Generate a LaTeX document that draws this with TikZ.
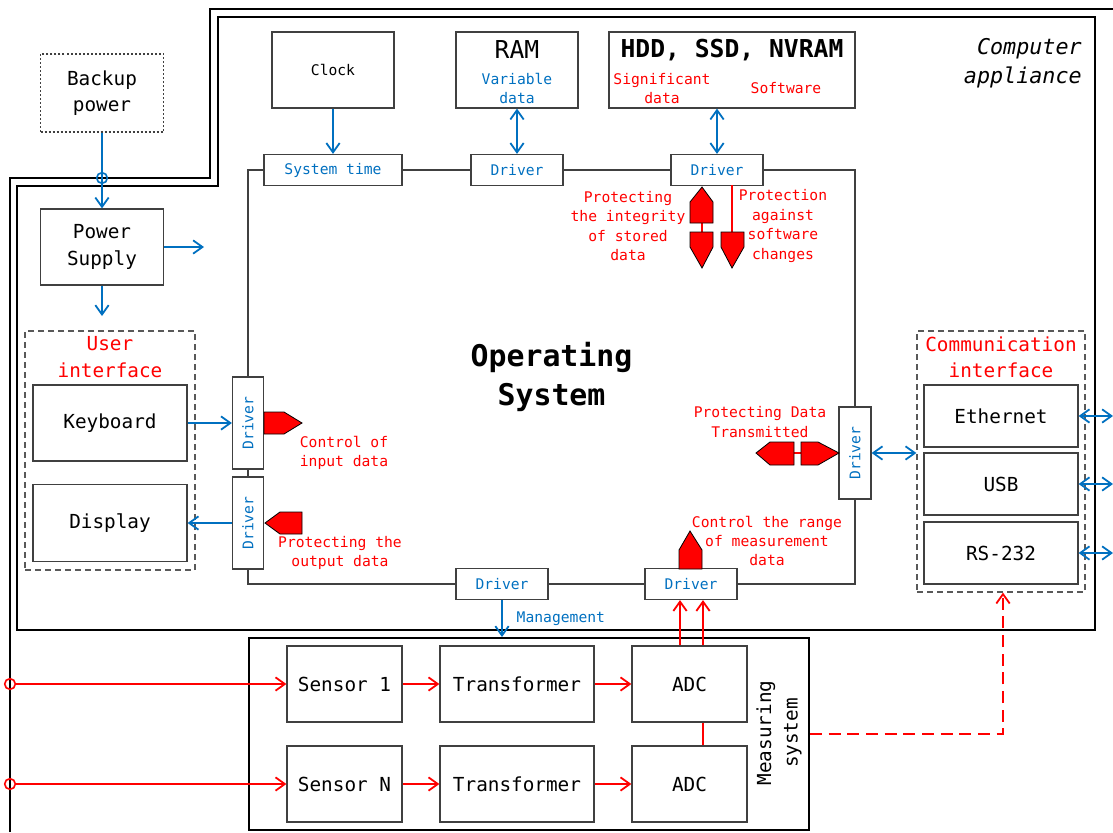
\documentclass[tikz,border=0pt]{standalone}
\usepackage{fontspec}
\setmainfont{DejaVu Sans Mono}
\usepackage{graphicx}
\usetikzlibrary{arrows.meta}
\definecolor{cblue}{RGB}{0,112,192}
\definecolor{cred}{RGB}{255,0,0}
\newcommand\szS{\fontsize{11}{14.6}\selectfont}
\newcommand\szM{\fontsize{14.5}{19.8}\selectfont}
\newcommand\szL{\fontsize{18.5}{22}\selectfont}
\newcommand\szXL{\fontsize{22.4}{29}\selectfont}
\newcommand\szCA{\fontsize{16.3}{21.8}\selectfont}
\tikzset{
  wh/.style 2 args={minimum width={#1*0.75pt}, minimum height={#2*0.75pt}},
  box/.style={rectangle, draw=black!75, line width=0.9pt, inner sep=0pt, align=center, font=\szM},
  drv/.style={box, fill=white, text=cblue, font=\szS},
  grp/.style={rectangle, draw=black!65, line width=0.9pt, inner sep=0pt, dash pattern=on 4.5pt off 3pt},
  bl/.style={draw=cblue, line width=1.35pt},
  rd/.style={draw=cred, line width=1.35pt},
  arr/.style={-{Straight Barb[length=7pt,width=10pt]}},
  darr/.style={{Straight Barb[length=7pt,width=10pt]}-{Straight Barb[length=7pt,width=10pt]}},
  shield/.style={fill=cred, draw=black, line width=0.6pt},
  frame/.style={draw=black, line width=1.5pt},
  lbl/.style={text=cred, font=\szS, align=center},
  ring/.style={circle, line width=1.2pt, minimum size=8pt, inner sep=0pt}
}
\begin{document}
\begin{tikzpicture}[x=0.75pt,y=-0.75pt]
\useasboundingbox (0,0) rectangle (1113,832);

% frames
\draw[frame] (10,832) -- (10,178) -- (210,178) -- (210,9) -- (1113,9);
\draw[frame] (17,630) -- (17,186) -- (218,186) -- (218,17) -- (1095,17) -- (1095,630) -- cycle;
\node[font=\szCA\itshape, align=right, anchor=east, inner sep=0pt] (ca) at (1082,63) {Computer\\appliance};

% power
\node[box, dash pattern=on 1.5pt off 1.5pt, wh={123}{78}] (bp) at (102,93) {Backup\\power};
\node[box, wh={123}{76}] (ps) at (102,247) {Power\\Supply};
\coordinate (psr) at (204,247);
\coordinate (psd) at (102,316);

% user interface
\node[grp, wh={170}{239}] (ui) at (110,450.5) {};
\node[text=cred, font=\szM, align=center] (uit) at (110,357) {User\\interface};
\node[box, wh={154}{76}] (kb) at (110,423) {Keyboard};
\node[box, wh={154}{77}] (disp) at (110,523) {Display};

% operating system
\node[box, wh={607}{414}, font=\szXL\bfseries] (os) at (551.5,377) {Operating\\System};

% top devices
\node[box, wh={122}{76}, font=\szS] (clk) at (333,70) {Clock};
\node[box, wh={122}{76}] (ram) at (517,70) {};
\node[font=\szL] (ramt) at (517,50) {RAM};
\node[text=cblue, font=\szS, align=center] (ramd) at (517,88.5) {Variable\\data};
\node[box, wh={246}{76}] (hdd) at (732,70) {};
\node[font=\szL\bfseries] (hddt) at (732,50) {HDD, SSD, NVRAM};
\node[lbl] (hdds) at (662,88.5) {Significant\\data};
\node[lbl] (hddw) at (786,88) {Software};

% communication interface
\node[grp, wh={168}{261}] (ci) at (1001,461.5) {};
\node[text=cred, font=\szM, align=center] (cit) at (1001,357) {Communication\\interface};
\node[box, wh={154}{62}] (eth) at (1001,416) {Ethernet};
\node[box, wh={154}{62}] (usb) at (1001,484) {USB};
\node[box, wh={154}{62}] (rs) at (1001,553) {RS-232};
\coordinate (e1) at (1113,416);
\coordinate (e2) at (1113,484);
\coordinate (e3) at (1113,553);

% measuring system
\node[rectangle, draw=black, line width=1.5pt, inner sep=0pt, wh={560}{192}] (ms) at (529,734) {};
\node[box, wh={115}{76}] (s1) at (344.5,684) {Sensor 1};
\node[box, wh={115}{76}] (sn) at (344.5,784) {Sensor N};
\node[box, wh={154}{76}] (t1) at (517,684) {Transformer};
\node[box, wh={154}{76}] (tn) at (517,784) {Transformer};
\node[box, wh={115}{76}] (a1) at (689.5,684) {ADC};
\node[box, wh={115}{76}] (an) at (689.5,784) {ADC};
\node[rotate=90, font=\szM, align=center] (mst) at (779,733) {Measuring\\system};

% blue connectors
\draw[bl, arr] (bp.south) -- (ps.north);
\node[ring, draw=cblue] (jp) at (102,178) {};
\draw[bl, arr] (ps.east) -- (psr);
\draw[bl, arr] (ps.south) -- (psd);

% drivers
\node[drv, wh={138}{31}] (st) at (333,170) {System time};
\node[drv, wh={92}{31}] (d2) at (517,170) {Driver};
\node[drv, wh={92}{31}] (d3) at (717,170) {Driver};
\node[drv, wh={31}{92}] (dl1) at (248,423) {\rotatebox{90}{Driver}};
\node[drv, wh={31}{92}] (dl2) at (248,523) {\rotatebox{90}{Driver}};
\node[drv, wh={32}{92}] (dr) at (855,453) {\rotatebox{90}{Driver}};
\node[drv, wh={92}{31}] (db1) at (502,584) {Driver};
\node[drv, wh={92}{31}] (db2) at (691,584) {Driver};

\draw[bl, arr] (kb.east) -- (dl1.west);
\draw[bl, arr] (dl2.west) -- (disp.east);
\draw[bl, arr] (clk.south) -- (st.north);
\draw[bl, darr] (ram.south) -- (d2.north);
\draw[bl, darr] (hdd.south -| d3.north) -- (d3.north);
\draw[bl, darr] (dr.east) -- (dr.east -| ci.west);
\draw[bl, darr] (eth.east) -- (e1);
\draw[bl, darr] (usb.east) -- (e2);
\draw[bl, darr] (rs.east) -- (e3);
\draw[bl, arr] (db1.south) -- (db1.south |- ms.north);
\node[text=cblue, font=\szS, anchor=west] (mgmt) at (512,619) {Management};

% red connectors
\node[ring, draw=cred] (c1) at (10,684) {};
\node[ring, draw=cred] (c2) at (10,784) {};
\draw[rd, arr] (c1.east) -- (s1.west);
\draw[rd, arr] (c2.east) -- (sn.west);
\draw[rd, arr] (s1) -- (t1);
\draw[rd, arr] (t1) -- (a1);
\draw[rd, arr] (sn) -- (tn);
\draw[rd, arr] (tn) -- (an);
\coordinate (q1) at (680,0);
\coordinate (q2) at (703,0);
\draw[rd, arr] (q1 |- a1.north) -- (q1 |- db2.south);
\draw[rd, arr] (q2 |- a1.north) -- (q2 |- db2.south);
\draw[rd] (q2 |- an.north) -- (q2 |- a1.south);
\coordinate (dk) at (1003,0);
\draw[rd, dash pattern=on 9pt off 5pt, arr] (ms.east) -| (dk |- ci.south);

% shields
\draw[rd] (732,185) -- (732,232);
\draw[rd] (702,223) -- (702,232);
\draw[shield] (702,187) -- (713,202) -- (713,223) -- (690,223) -- (690,202) -- cycle;
\draw[shield] (690,232) -- (713,232) -- (713,247) -- (702,268) -- (690,247) -- cycle;
\draw[shield] (721,232) -- (744,232) -- (744,247) -- (732,268) -- (721,247) -- cycle;
\draw[shield] (264,412) -- (284,412) -- (302,423) -- (284,434) -- (264,434) -- cycle;
\draw[shield] (265,523) -- (280,512) -- (302,512) -- (302,534) -- (280,534) -- cycle;
\draw[rd] (794,453) -- (801,453);
\draw[shield] (756,453) -- (770,442) -- (794,442) -- (794,465) -- (770,465) -- cycle;
\draw[shield] (801,442) -- (818,442) -- (839,453) -- (818,465) -- (801,465) -- cycle;
\draw[shield] (679,569) -- (679,550) -- (690,531) -- (702,550) -- (702,569) -- cycle;

% red labels
\node[lbl] (l1) at (628,226) {Protecting\\the integrity\\of stored\\data};
\node[lbl] (l2) at (783,226) {Protection\\against\\software\\changes};
\node[lbl] (l3) at (344,453) {Control of\\input data};
\node[lbl] (l4) at (340,553) {Protecting the\\output data};
\node[lbl] (l5) at (760,422) {Protecting Data\\Transmitted};
\node[lbl] (l6) at (767,541) {Control the range\\of measurement\\data};
\end{tikzpicture}
\end{document}
